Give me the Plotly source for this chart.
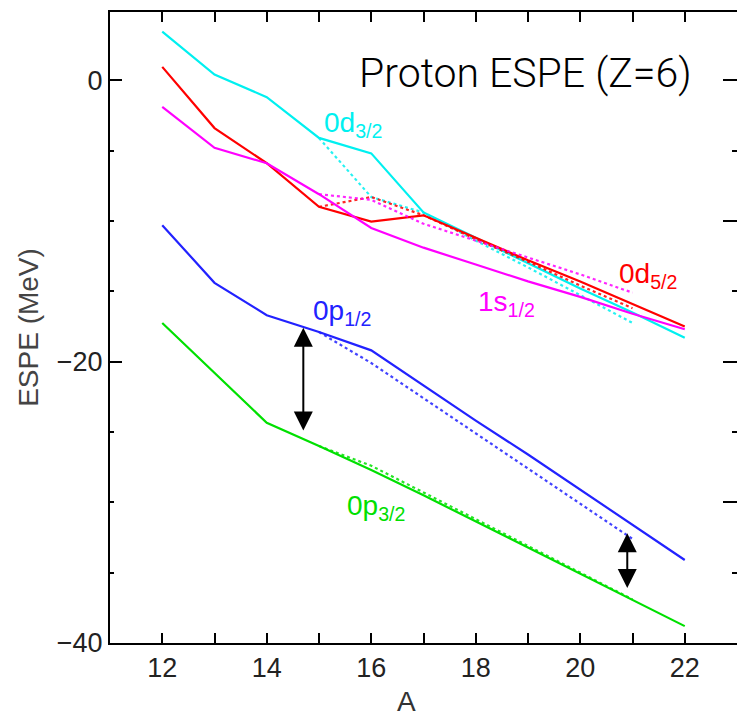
import plotly.graph_objects as go

# ---------------- data ----------------
A = [12, 13, 14, 15, 16, 17, 18, 19, 20, 21, 22]
A_dot = [15, 16, 17, 18, 19, 20, 21]

d32_solid = [3.45, 0.4, -1.2, -4.1, -5.2, -9.4, -11.2, -13.0, -14.8, -16.5, -18.3]
d32_dot = [-4.1, -8.3, -9.4, -11.4, -13.3, -15.3, -17.25]

d52_solid = [0.95, -3.4, -5.9, -9.0, -10.05, -9.6, -11.2, -12.8, -14.3, -15.9, -17.5]
d52_dot = [-9.0, -8.3, -9.6, -11.3, -12.9, -14.6, -16.2]

s12_solid = [-1.9, -4.8, -5.9, -8.1, -10.5, -11.9, -13.1, -14.3, -15.4, -16.6, -17.7]
s12_dot = [-8.1, -8.5, -10.2, -11.4, -12.6, -13.8, -15.1]

p12_solid = [-10.3, -14.4, -16.7, -17.9, -19.2, -21.7, -24.2, -26.6, -29.1, -31.6, -34.1]
p12_dot = [-17.9, -20.1, -22.6, -25.1, -27.6, -30.1, -32.6]

p32_solid = [-17.25, -20.8, -24.35, -26.0, -27.7, -29.5, -31.35, -33.2, -35.05, -36.95, -38.8]
p32_dot = [-26.0, -27.4, -29.3, -31.2, -33.1, -35.0, -36.9]

x_tickvals = [12, 14, 16, 18, 20, 22]
x_ticktext = ["12", "14", "16", "18", "20", "22"]
y_tickvals = [0, -20, -40]
y_ticktext = ["0", "\u221220", "\u221240"]
y_major_right = [0, -10, -20, -30, -40]

# orbital labels: (text, A, E, colour)
labels = [
    ("0d<sub>3/2</sub>", 15.06, -3.15, "#00f0f0"),
    ("0d<sub>5/2</sub>", 20.7, -13.9, "#ff0000"),
    ("1s<sub>1/2</sub>", 18.0, -15.9, "#ff00ff"),
    ("0p<sub>1/2</sub>", 14.85, -16.5, "#2222ff"),
    ("0p<sub>3/2</sub>", 15.5, -30.4, "#00e000"),
]
# gap arrows: (A, E_top, E_bottom)
arrows = [(14.7, -17.6, -25.0), (20.9, -32.2, -36.2)]

# ---------------- figure ----------------
series = [
    (d32_solid, d32_dot, "#00f0f0"),
    (d52_solid, d52_dot, "#ff0000"),
    (s12_solid, s12_dot, "#ff00ff"),
    (p12_solid, p12_dot, "#2222ff"),
    (p32_solid, p32_dot, "#00e000"),
]

fig = go.Figure()
for solid, dot, col in series:
    fig.add_trace(go.Scatter(x=A, y=solid, mode="lines",
                             line=dict(color=col, width=2.2), showlegend=False))
    fig.add_trace(go.Scatter(x=A_dot, y=dot, mode="lines",
                             line=dict(color=col, width=2.2, dash="dot"),
                             opacity=0.85, showlegend=False))

# helper empty trace for the right-hand tick axis
fig.add_trace(go.Scatter(x=[], y=[], yaxis="y2", showlegend=False))

tick_font = dict(family="Liberation Sans, Arial, sans-serif", size=27, color="#222222")

fig.update_layout(
    width=737, height=716,
    margin=dict(l=110, r=0, t=12, b=73),
    paper_bgcolor="white", plot_bgcolor="white",
    xaxis=dict(range=[11, 23], tickvals=x_tickvals, ticktext=x_ticktext,
               ticks="inside", ticklen=10, tickwidth=2, tickcolor="black",
               minor=dict(ticks="inside", ticklen=10, tickwidth=2, dtick=1, tick0=12,
                          tickcolor="black", showgrid=False),
               showline=True, linewidth=2, linecolor="black", mirror="ticks",
               showgrid=False, zeroline=False, tickfont=tick_font),
    yaxis=dict(range=[-40, 4.85], tickvals=y_tickvals, ticktext=y_ticktext,
               ticks="inside", ticklen=12, tickwidth=2, tickcolor="black",
               minor=dict(ticks="inside", ticklen=4, tickwidth=2, dtick=5, tick0=0,
                          tickcolor="black", showgrid=False),
               showline=True, linewidth=2, linecolor="black",
               showgrid=False, zeroline=False, tickfont=tick_font,
               title=dict(text="ESPE (MeV)", standoff=10,
                          font=dict(family="Liberation Sans, Arial, sans-serif",
                                    size=28, color="#444444"))),
    yaxis2=dict(range=[-40, 4.85], overlaying="y", side="right",
                tickvals=y_major_right, showticklabels=False,
                ticks="inside", ticklen=14, tickwidth=2, tickcolor="black",
                minor=dict(ticks="inside", ticklen=5, tickwidth=2, dtick=5, tick0=0,
                           tickcolor="black", showgrid=False),
                showline=False, showgrid=False, zeroline=False),
)

for text, ax_, ey, col in labels:
    fig.add_annotation(x=ax_, y=ey, text=text, showarrow=False,
                       xanchor="left", yanchor="middle",
                       font=dict(family="Liberation Sans, Arial, sans-serif", size=28, color=col))

for xa, top, bot in arrows:
    fig.add_annotation(x=xa, y=top, ax=xa, ay=bot, axref="x", ayref="y",
                       xref="x", yref="y", text="", showarrow=True,
                       arrowhead=2, arrowside="end+start", arrowsize=1.9,
                       arrowwidth=2, arrowcolor="black")

fig.add_annotation(xref="paper", yref="paper", x=(525 - 110) / 627, y=(643 - 73) / 631,
                   text="Proton ESPE (Z=6)", showarrow=False,
                   xanchor="center", yanchor="middle",
                   font=dict(family="Roboto, Lato, sans-serif", size=41, color="black", weight=300))

fig.add_annotation(xref="paper", yref="paper", x=(406 - 110) / 627, y=(643 - 684) / 631,
                   text="A", showarrow=False, xanchor="center", yanchor="top",
                   font=dict(family="Liberation Sans, Arial, sans-serif", size=28, color="#333333"))

fig.write_html("out.html", config={"displayModeBar": False},
               post_script="document.body.style.margin='0';")
